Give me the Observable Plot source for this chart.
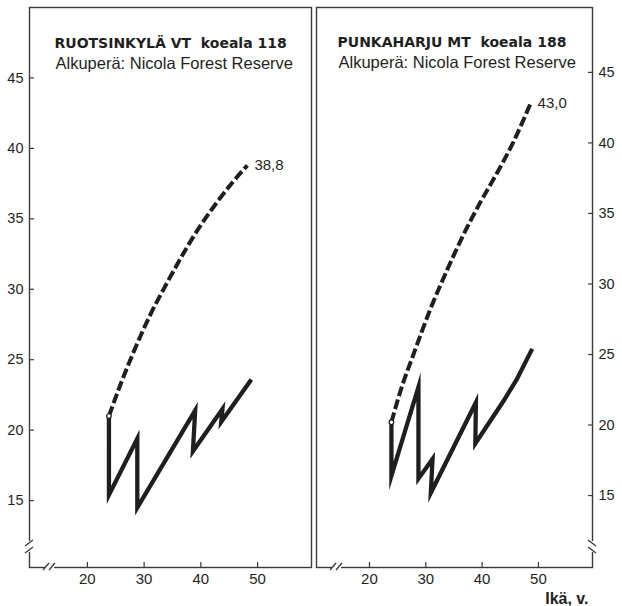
<!DOCTYPE html>
<html><head><meta charset="utf-8">
<script src="https://cdn.jsdelivr.net/npm/d3@7"></script>
<script src="https://cdn.jsdelivr.net/npm/@observablehq/plot@0.6"></script>
<style>
body{margin:0;background:#fff;}
#wrap{position:relative;width:622px;height:606px;display:flex;align-items:flex-start;}
#wrap svg{display:block;flex:none;}
</style></head><body><div id="wrap"></div>
<script>
// ---- data ----
const titles = ["RUOTSINKYLÄ VT  koeala 118", "PUNKAHARJU MT  koeala 188"];
const subtitle = "Alkuperä: Nicola Forest Reserve";
const xTicks = [20, 30, 40, 50];
const yTicks = [15, 20, 25, 30, 35, 40, 45];
const xLabel = "Ikä, v.";
const endLabels = ["38,8", "43,0"];

const leftDashedAge = [23.8, 25.8, 28.2, 31.1, 34.1, 37.0, 39.9, 42.9, 45.8, 48.2];
const leftDashedH   = [21.0, 23.2, 25.6, 28.2, 30.5, 32.6, 34.5, 36.2, 37.7, 38.8];
const leftSolidAge  = [23.8, 23.8, 28.8, 28.8, 39.0, 38.6, 43.8, 43.6, 48.9];
const leftSolidH    = [21.0, 15.4, 19.4, 14.5, 21.4, 18.5, 21.5, 20.6, 23.6];

const rightDashedAge = [23.9, 25.5, 27.9, 30.8, 33.8, 36.7, 39.7, 42.7, 45.6, 48.6];
const rightDashedH   = [20.2, 22.4, 25.1, 28.2, 31.0, 33.5, 35.8, 37.9, 40.1, 42.8];
const rightSolidAge  = [23.9, 23.9, 28.7, 28.7, 31.2, 30.9, 38.9, 38.8, 43.8, 46.1, 48.9];
const rightSolidH    = [20.2, 16.4, 22.7, 16.2, 17.6, 15.2, 21.6, 18.7, 21.7, 23.2, 25.4];

const toRows = (a, h) => a.map((x, i) => ({age: x, h: h[i]}));

const INK = "#1f1f1f";
const FRAME = "#3a3a3a";

function panel({width, ml, mr, xDomain, yDomain, yAnchor, title, tdx, tdy, dashed, solid, label, showXLabel}) {
  const marks = [
    Plot.frame({stroke: FRAME, strokeWidth: 1.4}),
    Plot.axisX({ticks: xTicks, tickSize: -5, tickPadding: 11, fontSize: 15, label: null, stroke: FRAME, strokeWidth: 1.2}),
    Plot.axisY({ticks: yTicks, anchor: yAnchor, tickSize: -5, tickPadding: 11, fontSize: 14.5, label: null, stroke: FRAME, strokeWidth: 1.2}),
    Plot.text([title], {frameAnchor: "top-left", lineAnchor: "middle", textAnchor: "start", dx: tdx, dy: tdy, fontFamily: "DejaVu Sans", fontWeight: "bold", fontSize: 14, fill: INK}),
    Plot.text([subtitle], {frameAnchor: "top-left", lineAnchor: "middle", textAnchor: "start", dx: tdx + 1, dy: tdy + 20, fontSize: 16.5, fill: INK}),
    Plot.line(dashed, {x: "age", y: "h", stroke: INK, strokeWidth: 4, strokeDasharray: "10,3.5", strokeLinecap: "butt", curve: "monotone-x"}),
    Plot.line(solid, {x: "age", y: "h", stroke: INK, strokeWidth: 4.3, strokeLinecap: "butt", strokeLinejoin: "miter", strokeMiterlimit: 14, curve: "linear"}),
    Plot.dot(dashed.slice(0, 1), {x: "age", y: "h", r: 2.3, fill: "#fff", stroke: INK, strokeWidth: 1.2}),
    Plot.text(dashed.slice(-1), {x: "age", y: "h", text: () => label, textAnchor: "start", dx: 7, fontSize: 15, fill: INK})
  ];
  if (showXLabel) {
    marks.push(Plot.text([xLabel], {frameAnchor: "bottom-right", lineAnchor: "middle", textAnchor: "end", dx: -4, dy: 31, fontWeight: "bold", fontSize: 16, fill: INK}));
  }
  return Plot.plot({
    width, height: 606,
    marginTop: 7, marginBottom: 39, marginLeft: ml, marginRight: mr,
    x: {domain: xDomain, axis: null},
    y: {domain: yDomain, axis: null},
    style: {fontFamily: "Liberation Sans, Arial, sans-serif", color: INK, background: "transparent", overflow: "visible"},
    marks
  });
}

function addBreaks(svg, side, ySlant) {
  const [xl, xr] = svg.scale("x").range;
  const [yb] = svg.scale("y").range;
  const sel = d3.select(svg).append("g").attr("fill", "none");
  // x-axis break
  const gx = xl + 16;
  sel.append("line").attr("x1", gx).attr("x2", gx + 9).attr("y1", yb).attr("y2", yb).attr("stroke", "#fff").attr("stroke-width", 4);
  for (const o of [1, 7]) {
    sel.append("line").attr("x1", gx + o - 3).attr("y1", yb + 3).attr("x2", gx + o + 3).attr("y2", yb - 4).attr("stroke", FRAME).attr("stroke-width", 1.3);
  }
  // y-axis break
  const ax = side === "left" ? xl : xr;
  const gy = yb - 26;
  sel.append("line").attr("x1", ax).attr("x2", ax).attr("y1", gy).attr("y2", gy + 11).attr("stroke", "#fff").attr("stroke-width", 4);
  for (const o of [2, 9]) {
    sel.append("line").attr("x1", ax - 4).attr("y1", gy + o + 3 * ySlant).attr("x2", ax + 4).attr("y2", gy + o - 3 * ySlant).attr("stroke", FRAME).attr("stroke-width", 1.3);
  }
}

const left = panel({
  width: 313, ml: 29, mr: 2,
  xDomain: [9.8, 59.5], yDomain: [10.25, 50], yAnchor: "left",
  title: titles[0], tdx: 25, tdy: 36,
  dashed: toRows(leftDashedAge, leftDashedH), solid: toRows(leftSolidAge, leftSolidH),
  label: endLabels[0], showXLabel: false
});
const right = panel({
  width: 309, ml: 3, mr: 30,
  xDomain: [10.6, 59.6], yDomain: [9.9, 49.6], yAnchor: "right",
  title: titles[1], tdx: 21, tdy: 35,
  dashed: toRows(rightDashedAge, rightDashedH), solid: toRows(rightSolidAge, rightSolidH),
  label: endLabels[1], showXLabel: true
});
addBreaks(left, "left", 1);
addBreaks(right, "right", -1);
document.getElementById("wrap").append(left, right);
</script>
</body></html>
